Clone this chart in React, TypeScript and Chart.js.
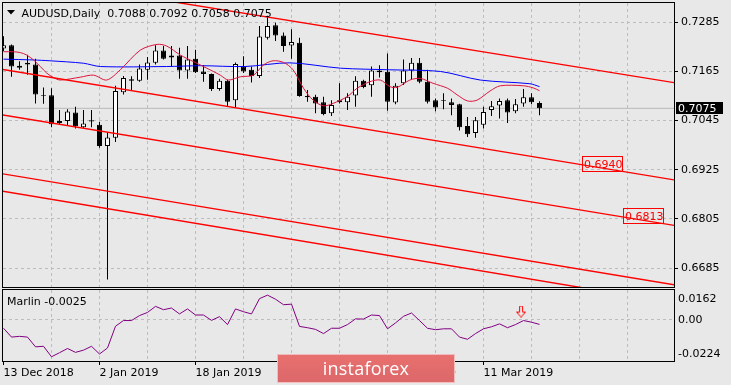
import React, { useEffect, useRef } from 'react';
import { Chart, registerables } from 'chart.js';

Chart.register(...registerables);
Chart.defaults.font.family = '"DejaVu Sans", sans-serif';
Chart.defaults.font.size = 11;

const SYMBOL = 'AUDUSD';
const PERIOD = 'Daily';
const INDICATOR = 'Marlin';

// Daily bars, 13 Dec 2018 .. 20 Mar 2019 (index 0..67)
const OPEN = [
  0.7221, 0.7229, 0.7179, 0.7186, 0.7182, 0.7107, 0.7107, 0.7039, 0.7044, 0.7065,
  0.7029, 0.7046, 0.7035, 0.6983, 0.7003, 0.7114, 0.7146, 0.7142, 0.7169, 0.7186,
  0.7216, 0.7199, 0.7204, 0.7167, 0.7196, 0.7165, 0.7159, 0.7122, 0.7142, 0.7095,
  0.7177, 0.7169, 0.7154, 0.7247, 0.7278, 0.7253, 0.7228, 0.7235, 0.7105, 0.7103,
  0.7090, 0.7063, 0.7095, 0.7090, 0.7106, 0.7142, 0.7131, 0.7167, 0.7164, 0.7089,
  0.7136, 0.7167, 0.7186, 0.7140, 0.7095, 0.7095, 0.7090, 0.7085, 0.7032, 0.7015,
  0.7035, 0.7071, 0.7082, 0.7095, 0.7068, 0.7087, 0.7102, 0.7088,
];
const HIGH = [
  0.7251, 0.7231, 0.7190, 0.7206, 0.7196, 0.7126, 0.7124, 0.7071, 0.7073, 0.7079,
  0.7071, 0.7071, 0.7042, 0.7017, 0.7130, 0.7154, 0.7153, 0.7182, 0.7200, 0.7229,
  0.7227, 0.7227, 0.7223, 0.7227, 0.7218, 0.7181, 0.7160, 0.7147, 0.7145, 0.7187,
  0.7202, 0.7177, 0.7276, 0.7301, 0.7284, 0.7260, 0.7268, 0.7247, 0.7120, 0.7108,
  0.7103, 0.7095, 0.7136, 0.7112, 0.7153, 0.7145, 0.7177, 0.7180, 0.7209, 0.7136,
  0.7194, 0.7198, 0.7198, 0.7169, 0.7099, 0.7112, 0.7099, 0.7086, 0.7054, 0.7054,
  0.7079, 0.7093, 0.7099, 0.7099, 0.7098, 0.7122, 0.7112, 0.7092,
];
const LOW = [
  0.7214, 0.7152, 0.7169, 0.7157, 0.7087, 0.7086, 0.7029, 0.7036, 0.7034, 0.7026,
  0.7027, 0.7029, 0.6979, 0.6657, 0.6993, 0.7109, 0.7120, 0.7140, 0.7145, 0.7182,
  0.7194, 0.7177, 0.7147, 0.7147, 0.7161, 0.7140, 0.7117, 0.7118, 0.7079, 0.7077,
  0.7161, 0.7138, 0.7149, 0.7243, 0.7239, 0.7213, 0.7196, 0.7103, 0.7091, 0.7063,
  0.7058, 0.7056, 0.7087, 0.7071, 0.7079, 0.7124, 0.7103, 0.7150, 0.7069, 0.7085,
  0.7132, 0.7145, 0.7136, 0.7087, 0.7068, 0.7073, 0.7058, 0.7021, 0.7005, 0.7003,
  0.7026, 0.7056, 0.7050, 0.7039, 0.7063, 0.7079, 0.7085, 0.7058,
];
const CLOSE = [
  0.7229, 0.7177, 0.7174, 0.7182, 0.7109, 0.7105, 0.7036, 0.7044, 0.7067, 0.7031,
  0.7038, 0.7043, 0.6983, 0.7004, 0.7117, 0.7149, 0.7142, 0.7172, 0.7187, 0.7216,
  0.7196, 0.7204, 0.7167, 0.7194, 0.7163, 0.7159, 0.7122, 0.7142, 0.7091, 0.7183,
  0.7165, 0.7154, 0.7250, 0.7276, 0.7253, 0.7227, 0.7237, 0.7105, 0.7102, 0.7087,
  0.7061, 0.7083, 0.7090, 0.7103, 0.7142, 0.7127, 0.7167, 0.7163, 0.7091, 0.7130,
  0.7167, 0.7186, 0.7140, 0.7091, 0.7077, 0.7093, 0.7083, 0.7029, 0.7012, 0.7046,
  0.7066, 0.7080, 0.7093, 0.7065, 0.7085, 0.7102, 0.7090, 0.7075,
];

const DATE_TICK_INDEX = [0, 12, 24, 36, 48, 60];
const DATE_TICK_LABELS = ['13 Dec 2018', '2 Jan 2019', '18 Jan 2019', '5 Feb 2019', '21 Feb 2019', '11 Mar 2019'];
const GRID_STEP_BARS = 6;
const PRICE_TICKS = [0.7285, 0.7165, 0.7045, 0.6925, 0.6805, 0.6685];

// slow moving average (blue)
const MA_SLOW_INDEX = [0, 3.7, 5.8, 10, 12.1, 20.4, 24.6, 30.2, 35.8, 42.1, 48.3, 54.6, 59.6, 65.8, 67];
const MA_SLOW = [0.7195, 0.7193, 0.7191, 0.7185, 0.7177, 0.7177, 0.7179, 0.7177, 0.7186, 0.7173, 0.7169, 0.7165, 0.7144, 0.7135, 0.7128];

// fast moving average (crimson)
const MA_FAST_INDEX = [
  0, 1.25, 2.1, 2.9, 3.75, 4.6, 5.4, 6.25, 7.1, 9.6, 11.25, 12.9, 14.6, 17.1, 19.2, 20.4,
  22.1, 23.75, 25.4, 27.1, 28.1, 29.6, 31.25, 32.5, 33.7, 35, 36.2, 37.5, 38.7, 40, 41.2,
  43, 44.2, 45.8, 47.1, 48.3, 49.2, 50.8, 52.1, 53.7, 55.5, 56.7, 58, 59.2, 60.8, 62.1,
  65, 66.2, 67,
];
const MA_FAST = [
  0.7213, 0.7213, 0.7211, 0.7205, 0.7193, 0.7177, 0.7161, 0.7150, 0.7144, 0.7151, 0.7156, 0.7144, 0.7169, 0.7217, 0.7231, 0.7227,
  0.7205, 0.7189, 0.7173, 0.7156, 0.7144, 0.7152, 0.7156, 0.7181, 0.7191, 0.7187, 0.7169, 0.7124, 0.7095, 0.7081, 0.7087,
  0.7104, 0.7124, 0.7140, 0.7144, 0.7128, 0.7126, 0.7144, 0.7148, 0.7136, 0.7124, 0.7108, 0.7093, 0.7095, 0.7117, 0.7130,
  0.7130, 0.7125, 0.7118,
];

// trend channel lines: price at bar -1 and bar 85
const CHANNEL_INDEX = [-1, 85];
const CHANNEL_1 = [0.74048, 0.7134];
const CHANNEL_2 = [0.71729, 0.68965];
const CHANNEL_3 = [0.70619, 0.67855];
const CHANNEL_4 = [0.6918, 0.66405];
const CHANNEL_5 = [0.68759, 0.65961];

const LEVEL_LABELS = ['0.6940', '0.6813'];
const LEVEL_INDEX = [72.35, 77.4];
const LEVEL_PRICE = [0.694, 0.6813];

const MARLIN = [
  -0.0046, -0.0094, -0.009, -0.0094, -0.0147, -0.0144, -0.0201, -0.0179, -0.0156, -0.0177,
  -0.0165, -0.0144, -0.0186, -0.0153, -0.0035, -0.0004, -0.0004, 0.0023, 0.004, 0.0073,
  0.0055, 0.0064, 0.0032, 0.0059, 0.0026, 0.0026, -0.0003, 0.0017, -0.0026, 0.0059,
  0.0044, 0.0032, 0.0115, 0.0134, 0.0112, 0.0082, 0.0085, -0.0036, -0.0043, -0.0052,
  -0.0075, -0.0046, -0.0046, -0.0026, 0.0005, 0.0004, 0.0026, 0.0023, -0.0049, -0.0017,
  0.0019, 0.0037, -0.0004, -0.0046, -0.0054, -0.0049, -0.0049, -0.0094, -0.0106, -0.0075,
  -0.0049, -0.0038, -0.0022, -0.0043, -0.0026, -0.0004, -0.0013, -0.0025,
];
const MARLIN_MAX = 0.0162;
const MARLIN_MIN = -0.0224;
const MARLIN_TICK_LABELS = ['0.0162', '0.00', '-0.0224'];
const SIGNAL_INDEX = [64.7];
const SIGNAL_VALUE = [0.0045];

// ---- styling / layout constants ----
const BG = '#e8e8e8';
const GRID = '#bdbdbd';
const FONT = '11px "DejaVu Sans", sans-serif';
const X_MIN = -0.0625;
const X_MAX = X_MIN + 671 / 8;
const Y_MIN = 0.6639;
const Y_MAX = 0.7332;

const zeroPad = (s: any) => {
  s.paddingTop = 0;
  s.paddingBottom = 0;
  s.paddingLeft = 0;
  s.paddingRight = 0;
};

const gridTicks = () => {
  const t: { value: number }[] = [];
  for (let v = 0; v <= X_MAX; v += GRID_STEP_BARS) t.push({ value: v });
  return t;
};

const lineDs = (data: { x: number; y: number }[], color: string, width: number, order: number, tension = 0) => ({
  type: 'line' as const,
  data,
  borderColor: color,
  borderWidth: width,
  pointRadius: 0,
  pointHoverRadius: 0,
  fill: false,
  tension,
  order,
});

export default function App() {
  const mainRef = useRef<HTMLCanvasElement>(null);
  const subRef = useRef<HTMLCanvasElement>(null);

  useEffect(() => {
    const charts: Chart[] = [];
    const L = OPEN.length - 1;
    const idx = OPEN.map((_, i) => i);

    const mainPlugin = {
      id: 'mainDecor',
      afterDraw(chart: any) {
        const { ctx, chartArea, scales } = chart;
        const { left, top, right, bottom } = chartArea;
        ctx.save();
        ctx.font = FONT;
        ctx.textBaseline = 'alphabetic';
        ctx.textAlign = 'left';
        LEVEL_LABELS.forEach((t, i) => {
          const px = Math.round(scales.x.getPixelForValue(LEVEL_INDEX[i]));
          const py = Math.round(scales.y.getPixelForValue(LEVEL_PRICE[i]));
          ctx.strokeStyle = '#ff0000';
          ctx.lineWidth = 1;
          ctx.strokeRect(px + 0.5, py - 7.5, 40, 15);
          ctx.fillStyle = '#ff0000';
          ctx.fillText(t, px + 2, py + 4);
        });
        ctx.strokeStyle = '#000';
        ctx.lineWidth = 1;
        ctx.strokeRect(left - 0.5, top - 0.5, right - left + 1, bottom - top + 1);
        ctx.fillStyle = '#000';
        ctx.beginPath();
        ctx.moveTo(7, 10);
        ctx.lineTo(15, 10);
        ctx.lineTo(11, 14.5);
        ctx.closePath();
        ctx.fill();
        const f = (v: number) => v.toFixed(4);
        ctx.fillText(`${SYMBOL},${PERIOD}  ${f(OPEN[L])} ${f(HIGH[L])} ${f(LOW[L])} ${f(CLOSE[L])}`, 21.5, 17);
        const py = Math.round(scales.y.getPixelForValue(CLOSE[L]));
        ctx.fillStyle = '#000';
        ctx.fillRect(right + 2, py - 6, 47, 12);
        ctx.fillStyle = '#fff';
        ctx.fillText(f(CLOSE[L]), right + 4, py + 4);
        ctx.restore();
      },
    };

    if (mainRef.current) {
      charts.push(
        new Chart(mainRef.current, {
          type: 'bar',
          data: {
            datasets: [
              ...[CHANNEL_1, CHANNEL_2, CHANNEL_3, CHANNEL_4, CHANNEL_5].map((c) =>
                lineDs(CHANNEL_INDEX.map((x, j) => ({ x, y: c[j] })), '#ff0000', 1.4, 0)
              ),
              lineDs(MA_FAST_INDEX.map((x, j) => ({ x, y: MA_FAST[j] })), '#dc143c', 1, 1, 0.3),
              lineDs(MA_SLOW_INDEX.map((x, j) => ({ x, y: MA_SLOW[j] })), '#0000ff', 1, 1, 0.3),
              {
                type: 'bar',
                data: idx.map((i) => ({ x: i, y: [OPEN[i], CLOSE[i]] })),
                backgroundColor: idx.map((i) => (CLOSE[i] >= OPEN[i] ? '#ffffff' : '#000000')),
                borderColor: '#000000',
                borderWidth: 1,
                borderSkipped: false,
                barThickness: 5,
                grouped: false,
                inflateAmount: 0,
                order: 2,
              } as any,
              {
                type: 'bar',
                data: idx.map((i) => ({ x: i, y: [LOW[i], HIGH[i]] })),
                backgroundColor: '#000000',
                borderWidth: 0,
                barThickness: 1,
                grouped: false,
                inflateAmount: 0,
                order: 3,
              } as any,
              lineDs([{ x: -5, y: CLOSE[L] }, { x: 90, y: CLOSE[L] }], '#b8b8b8', 1, 4),
            ] as any,
          },
          options: {
            animation: false,
            responsive: false,
            events: [],
            layout: { padding: { left: 3, top: 3, right: 0, bottom: 1 }, autoPadding: false } as any,
            plugins: { legend: { display: false }, tooltip: { enabled: false }, title: { display: false } },
            scales: {
              x: {
                type: 'linear',
                offset: false,
                min: X_MIN,
                max: X_MAX,
                afterBuildTicks: (s: any) => {
                  s.ticks = gridTicks().filter((t) => t.value > 0);
                },
                afterFit: (s: any) => {
                  s.height = 0;
                  zeroPad(s);
                },
                ticks: { display: false },
                grid: { color: GRID, drawTicks: false, lineWidth: 1, offset: false },
                border: { display: false, dash: [3, 3] },
              },
              y: {
                type: 'linear',
                position: 'right',
                min: Y_MIN,
                max: Y_MAX,
                afterBuildTicks: (s: any) => {
                  s.ticks = PRICE_TICKS.map((v) => ({ value: v }));
                },
                afterFit: (s: any) => {
                  s.width = 57;
                  zeroPad(s);
                },
                ticks: {
                  color: '#000',
                  font: { size: 11 },
                  padding: 3,
                  autoSkip: false,
                  callback: (v: any) => Number(v).toFixed(4),
                },
                grid: { color: GRID, lineWidth: 1, tickColor: '#000', tickLength: 4, tickBorderDash: [] } as any,
                border: { display: false, dash: [3, 3] },
              },
            },
          } as any,
          plugins: [mainPlugin],
        })
      );
    }

    const arrow = document.createElement('canvas');
    arrow.width = 10;
    arrow.height = 12;
    const actx = arrow.getContext('2d');
    if (actx) {
      actx.strokeStyle = '#ff0000';
      actx.lineWidth = 1;
      actx.beginPath();
      actx.moveTo(3.5, 0.5);
      actx.lineTo(6.5, 0.5);
      actx.lineTo(6.5, 6.5);
      actx.lineTo(9.5, 6.5);
      actx.lineTo(5, 11.5);
      actx.lineTo(0.5, 6.5);
      actx.lineTo(3.5, 6.5);
      actx.closePath();
      actx.stroke();
    }

    const subPlugin = {
      id: 'subDecor',
      afterDraw(chart: any) {
        const { ctx, chartArea } = chart;
        const { left, top, right, bottom } = chartArea;
        ctx.save();
        ctx.strokeStyle = '#000';
        ctx.lineWidth = 1;
        ctx.strokeRect(left - 0.5, top - 0.5, right - left + 1, bottom - top + 1);
        ctx.font = FONT;
        ctx.fillStyle = '#000';
        ctx.textBaseline = 'alphabetic';
        ctx.fillText(`${INDICATOR} ${MARLIN[MARLIN.length - 1].toFixed(4)}`, 7, 17);
        ctx.restore();
      },
    };

    if (subRef.current) {
      charts.push(
        new Chart(subRef.current, {
          type: 'line',
          data: {
            datasets: [
              {
                type: 'line',
                data: MARLIN.map((v, i) => ({ x: i, y: v })),
                borderColor: '#800080',
                borderWidth: 1,
                pointRadius: 0,
                fill: false,
                tension: 0,
              },
              {
                type: 'line',
                data: SIGNAL_INDEX.map((x, j) => ({ x, y: SIGNAL_VALUE[j] })),
                showLine: false,
                pointStyle: arrow,
                pointRadius: 5,
                borderColor: '#ff0000',
              },
            ] as any,
          },
          options: {
            animation: false,
            responsive: false,
            events: [],
            layout: { padding: { left: 3, top: 2, right: 0, bottom: 0 }, autoPadding: false } as any,
            plugins: { legend: { display: false }, tooltip: { enabled: false } },
            scales: {
              x: {
                type: 'linear',
                offset: false,
                min: X_MIN,
                max: X_MAX,
                afterBuildTicks: (s: any) => {
                  s.ticks = gridTicks();
                },
                afterFit: (s: any) => {
                  s.height = 24;
                  zeroPad(s);
                },
                ticks: {
                  autoSkip: false,
                  maxRotation: 0,
                  minRotation: 0,
                  align: 'start',
                  padding: 2,
                  color: '#000',
                  font: { size: 11 },
                  callback: (v: any) => {
                    const j = DATE_TICK_INDEX.indexOf(Number(v));
                    return j >= 0 ? DATE_TICK_LABELS[j] : '';
                  },
                },
                grid: {
                  color: (c: any) => (c.tick && c.tick.value === 0 ? 'rgba(0,0,0,0)' : GRID),
                  tickColor: (c: any) => (c.tick && DATE_TICK_INDEX.includes(c.tick.value) ? '#000' : 'rgba(0,0,0,0)'),
                  tickLength: 4,
                  tickBorderDash: [],
                  lineWidth: 1,
                } as any,
                border: { display: false, dash: [3, 3] },
              },
              y: {
                type: 'linear',
                position: 'right',
                min: MARLIN_MIN,
                max: MARLIN_MAX,
                afterBuildTicks: (s: any) => {
                  const span = MARLIN_MAX - MARLIN_MIN;
                  const h = s.bottom - s.top || 71;
                  s.ticks = [
                    { value: MARLIN_MAX - (span * 9) / h },
                    { value: 0 },
                    { value: MARLIN_MIN + (span * 7) / h },
                  ];
                },
                afterFit: (s: any) => {
                  s.width = 57;
                  zeroPad(s);
                },
                ticks: {
                  color: '#000',
                  font: { size: 11 },
                  padding: 4,
                  autoSkip: false,
                  callback: (_v: any, i: number) => MARLIN_TICK_LABELS[i],
                },
                grid: {
                  color: (c: any) => (c.index === 1 ? GRID : 'rgba(0,0,0,0)'),
                  drawTicks: false,
                  lineWidth: 1,
                },
                border: { display: false, dash: [3, 3] },
              },
            },
          } as any,
          plugins: [subPlugin],
        })
      );
    }

    return () => charts.forEach((c) => c.destroy());
  }, []);

  return (
    <div
      style={{
        position: 'fixed',
        left: 0,
        top: 0,
        width: 731,
        height: 385,
        background: BG,
        overflow: 'hidden',
      }}
    >
      <canvas
        ref={mainRef}
        width={731}
        height={288}
        style={{ position: 'absolute', left: 0, top: 0, width: 731, height: 288, display: 'block' }}
      />
      <canvas
        ref={subRef}
        width={731}
        height={97}
        style={{ position: 'absolute', left: 0, top: 288, width: 731, height: 97, display: 'block' }}
      />
      <div
        style={{
          position: 'absolute',
          left: 277,
          top: 354,
          width: 176,
          height: 27,
          border: '1px solid rgba(255,255,255,0.55)',
          background: 'linear-gradient(#e8716f, #dc6769)',
          color: '#ffffff',
          fontFamily: '"Open Sans", sans-serif',
          fontSize: 18,
          lineHeight: '27px',
          textAlign: 'center',
          letterSpacing: 0.2,
        }}
      >
        instaforex
      </div>
    </div>
  );
}
